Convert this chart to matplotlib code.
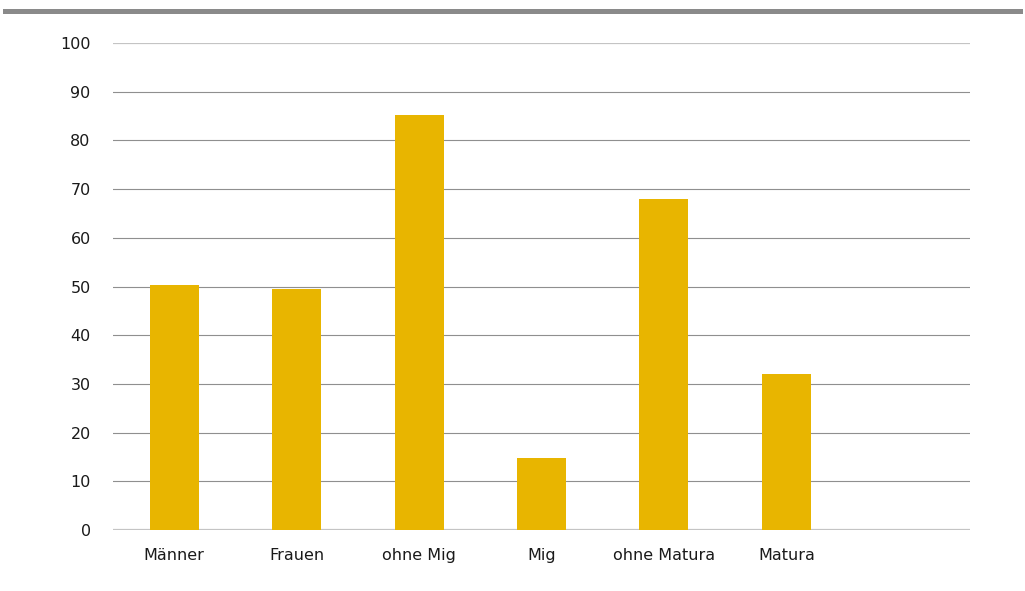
import matplotlib.pyplot as plt
import matplotlib.lines as mlines

categories = ['Männer', 'Frauen', 'ohne Mig', 'Mig', 'ohne Matura', 'Matura', '']
values = [50.3, 49.5, 85.2, 14.8, 68.0, 32.0, 0]
y_ticks = [0, 10, 20, 30, 40, 50, 60, 70, 80, 90, 100]

plt.rcParams['font.family'] = ['DejaVu Sans']

fig = plt.figure(figsize=(10.25, 5.91), dpi=100)
ax = fig.add_axes([0.1102, 0.1032, 0.8361, 0.824])

x = list(range(len(categories)))
ax.bar(x[:6], values[:6], width=0.4, color='#E8B500', zorder=3)

ax.set_xlim(-0.5, len(categories) - 0.5)
ax.set_ylim(0, 100)
ax.set_yticks(y_ticks)
ax.set_yticklabels([str(t) for t in y_ticks])
ax.set_xticks(x)
ax.set_xticklabels(categories)

for t in y_ticks[1:-1]:
    ax.axhline(t, color='#8f8f8f', lw=0.8, zorder=1)
ax.axhline(0, color='#c4c4c4', lw=1.6, zorder=2)
ax.axhline(100, color='#c4c4c4', lw=1.6, zorder=2)

for s in ax.spines.values():
    s.set_visible(False)
ax.tick_params(axis='both', length=0, labelsize=11.5, colors='#1a1a1a')
ax.tick_params(axis='y', pad=16)
ax.tick_params(axis='x', pad=13)

# gray rule across the top of the figure
fig.add_artist(mlines.Line2D([0.005, 0.995], [0.982, 0.982],
                             transform=fig.transFigure, color='#8a8a8a', lw=3.6))

fig.savefig('out.png', dpi=100)
